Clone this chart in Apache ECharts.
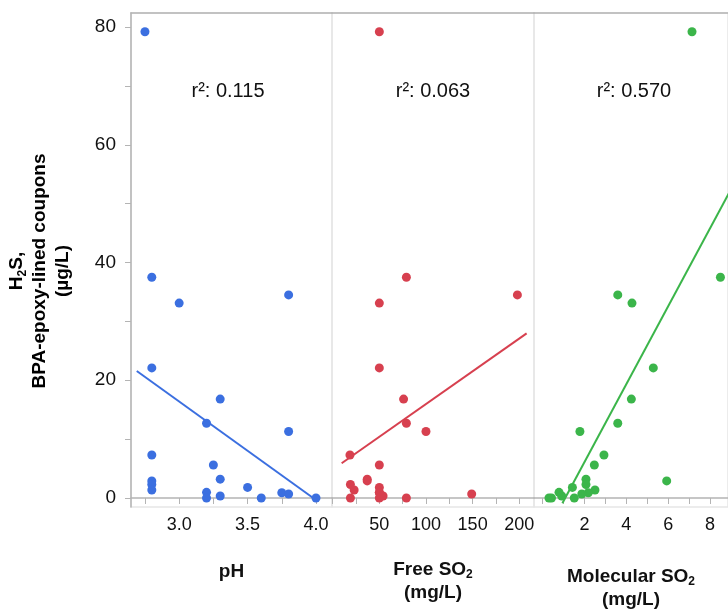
<!DOCTYPE html>
<html>
<head>
<meta charset="utf-8">
<script src="https://cdn.jsdelivr.net/npm/echarts@6/dist/echarts.min.js"></script>
<style>
  html, body { margin: 0; padding: 0; background: #fff; }
  #chart { width: 728px; height: 610px; }
</style>
</head>
<body>
<div id="chart"></div>
<script>
// H2S released from BPA-epoxy-lined coupons, one value per wine sample,
// plotted against three wine chemistry parameters.
const h2s          = [79.2, 37.5, 34.5, 33.1, 22.1, 16.8, 12.7, 11.3, 7.3, 5.6, 3.2, 2.9, 2.3, 1.8, 1.36, 0.96, 0.9, 0.68, 0.34, 0, 0, 0];
const pH           = [2.75, 2.80, 3.80, 3.00, 2.80, 3.30, 3.20, 3.80, 2.80, 3.25, 3.30, 2.80, 2.80, 3.50, 2.80, 3.20, 3.75, 3.80, 3.30, 3.20, 3.60, 4.00];
const freeSO2      = [50, 79, 198, 50, 50, 76, 79, 100, 18.5, 50, 37, 37, 19, 50, 23, 50, 50, 149, 54, 19, 50, 79];
const molecularSO2 = [7.14, 8.50, 3.59, 4.27, 5.29, 4.24, 3.59, 1.78, 2.93, 2.47, 2.07, 5.93, 2.07, 1.42, 2.50, 0.78, 2.18, 1.87, 0.91, 0.30, 0.42, 1.51];

// Least-squares fit lines, given as their two end points [x, H2S]
const fitPH        = [[2.69, 21.57], [4.0, -0.34]];
const fitFreeSO2   = [[9.6, 5.9], [207.9, 27.97]];
const fitMolSO2    = [[0.94, -0.9], [9.5, 55.7]];

const r2Labels     = ['r²: 0.115', 'r²: 0.063', 'r²: 0.570'];

// Axis ticks and labels
const yLabelValues = [0, 20, 40, 60, 80];
const yTickValues  = [0, 10, 20, 30, 40, 50, 60, 70, 80];
const pHLabels     = [3.0, 3.5, 4.0];
const pHTicks      = [2.75, 3.0, 3.25, 3.5, 3.75, 4.0];
const freeLabels   = [50, 100, 150, 200];
const freeTicks    = [0, 25, 50, 75, 100, 125, 150, 175, 200];
const molLabels    = [2, 4, 6, 8];
const molTicks     = [0, 1, 2, 3, 4, 5, 6, 7, 8];

const BLUE = '#3b6fe0', RED = '#d7404f', GREEN = '#3bb54a';
const FONT = 'Liberation Sans, Arial, Helvetica, sans-serif';
const AXIS_GREY = '#b4b4b4';

const pairs = xs => xs.map((x, i) => [x, h2s[i]]);

const grids = [
  { left: 131, top: 13, width: 201, height: 494 },
  { left: 332, top: 13, width: 202, height: 494 },
  { left: 534, top: 13, width: 194, height: 494 }
].map(g => Object.assign(g, {
  show: true, borderColor: '#e6e6e6', borderWidth: 1.5,
  containLabel: false, outerBoundsMode: 'none'
}));

const subRich = {
  b: { fontFamily: FONT, fontSize: 19, fontWeight: 'bold', color: '#111', lineHeight: 23 },
  s: { fontFamily: FONT, fontSize: 12, fontWeight: 'bold', color: '#111', lineHeight: 12, padding: [11, 0, 0, 0] }
};

function bottomAxis(gridIndex, min, max, labels, ticks, name, gap, fmt) {
  return {
    type: 'value', gridIndex, position: 'bottom', min, max,
    splitLine: { show: false },
    axisLine: { show: true, lineStyle: { color: AXIS_GREY, width: 1.5 } },
    axisTick: { show: true, inside: false, length: 6, customValues: ticks, lineStyle: { color: AXIS_GREY } },
    axisLabel: { show: true, customValues: labels, margin: 9, fontFamily: FONT, fontSize: 18, color: '#111', formatter: fmt },
    name, nameLocation: 'middle', nameGap: gap,
    nameTextStyle: { rich: subRich }
  };
}
function topAxis(gridIndex, min, max) {
  return {
    type: 'value', gridIndex, position: 'top', min, max,
    splitLine: { show: false },
    axisLine: { show: true, lineStyle: { color: AXIS_GREY, width: 1.5 } },
    axisTick: { show: false }, axisLabel: { show: false }
  };
}

const pHRange   = [2.648, 4.117];
const freeRange = [-0.75, 215.8];
const molRange  = [-0.416, 8.862];
const yRange    = [-1.53, 82.38];

const textStyle = t => ({ text: t, font: '20px ' + FONT, fill: '#111', textAlign: 'center', textVerticalAlign: 'middle' });

const option = {
  animation: false,
  backgroundColor: '#fff',
  grid: grids,
  xAxis: [
    bottomAxis(0, pHRange[0], pHRange[1], pHLabels, pHTicks, '{b|pH}', 53, v => v.toFixed(1)),
    bottomAxis(1, freeRange[0], freeRange[1], freeLabels, freeTicks, '{b|Free SO}{s|2}\n{b|(mg/L)}', 51, v => String(v)),
    bottomAxis(2, molRange[0], molRange[1], molLabels, molTicks, '{b|Molecular SO}{s|2}\n{b|(mg/L)}', 58, v => String(v)),
    topAxis(0, pHRange[0], pHRange[1]),
    topAxis(1, freeRange[0], freeRange[1]),
    topAxis(2, molRange[0], molRange[1])
  ],
  yAxis: [
    {
      type: 'value', gridIndex: 0, min: yRange[0], max: yRange[1],
      splitLine: { show: false },
      axisLine: { show: true, lineStyle: { color: AXIS_GREY, width: 1.5 } },
      axisTick: { show: true, inside: false, length: 6, customValues: yTickValues, lineStyle: { color: AXIS_GREY } },
      axisLabel: { show: true, customValues: yLabelValues, margin: 15, fontFamily: FONT, fontSize: 19, color: '#111' }
    },
    { type: 'value', gridIndex: 1, min: yRange[0], max: yRange[1], show: false, splitLine: { show: false } },
    { type: 'value', gridIndex: 2, min: yRange[0], max: yRange[1], show: false, splitLine: { show: false } }
  ],
  graphic: [
    // rotated y-axis title
    {
      type: 'text', x: 40, y: 271, rotation: Math.PI / 2,
      style: {
        text: '{b|H}{s|2}{b|S,}\n{b|BPA-epoxy-lined coupons}\n{b|(µg/L)}',
        rich: subRich, textAlign: 'center', textVerticalAlign: 'middle'
      }
    },
    { type: 'text', x: 228, y: 91, style: textStyle(r2Labels[0]) },
    { type: 'text', x: 433, y: 91, style: textStyle(r2Labels[1]) },
    { type: 'text', x: 634, y: 91, style: textStyle(r2Labels[2]) }
  ],
  series: [
    { type: 'line', xAxisIndex: 0, yAxisIndex: 0, data: fitPH, symbol: 'none', clip: true, lineStyle: { color: BLUE, width: 2 }, z: 2 },
    { type: 'line', xAxisIndex: 1, yAxisIndex: 1, data: fitFreeSO2, symbol: 'none', clip: true, lineStyle: { color: RED, width: 2 }, z: 2 },
    { type: 'line', xAxisIndex: 2, yAxisIndex: 2, data: fitMolSO2, symbol: 'none', clip: true, lineStyle: { color: GREEN, width: 2 }, z: 2 },
    { type: 'scatter', xAxisIndex: 0, yAxisIndex: 0, data: pairs(pH), symbolSize: 9, itemStyle: { color: BLUE, opacity: 1 }, z: 3 },
    { type: 'scatter', xAxisIndex: 1, yAxisIndex: 1, data: pairs(freeSO2), symbolSize: 9, itemStyle: { color: RED, opacity: 1 }, z: 3 },
    { type: 'scatter', xAxisIndex: 2, yAxisIndex: 2, data: pairs(molecularSO2), symbolSize: 9, itemStyle: { color: GREEN, opacity: 1 }, z: 3 }
  ]
};

const chart = echarts.init(document.getElementById('chart'), null, { renderer: 'canvas' });
chart.setOption(option);
</script>
</body>
</html>
